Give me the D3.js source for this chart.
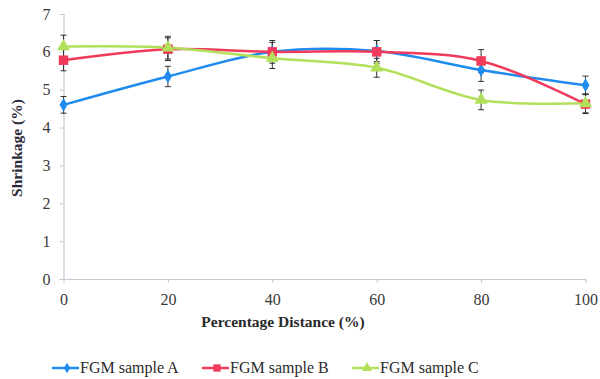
<!DOCTYPE html>
<html><head><meta charset="utf-8">
<script src="https://cdn.jsdelivr.net/npm/d3@7"></script>
<style>body{margin:0;background:#fff}svg{display:block}</style>
</head><body>
<svg id="c" width="600" height="379"></svg>
<script>
const distances = [0, 20, 40, 60, 80, 100];
const seriesNames = ["FGM sample A", "FGM sample B", "FGM sample C"];
const sampleA = [4.6, 5.35, 6.0, 6.02, 5.52, 5.12];
const sampleB = [5.78, 6.07, 6.0, 6.0, 5.76, 4.62];
const sampleC = [6.14, 6.11, 5.83, 5.58, 4.73, 4.64];
const errA = [0.22, 0.27, 0.25, 0.28, 0.3, 0.24];
const errB = [0.28, 0.3, 0.3, 0.3, 0.3, 0.25];
const errC = [0.3, 0.3, 0.27, 0.25, 0.26, 0.25];
const yTicks = [0, 1, 2, 3, 4, 5, 6, 7];
const xTicks = [0, 20, 40, 60, 80, 100];
const colors = ["#1f8bef", "#f03a5c", "#b3e05c"];
const markers = [d3.symbolDiamond, d3.symbolSquare, d3.symbolTriangle];
const markerSizes = [55, 90, 75];

const series = [sampleA, sampleB, sampleC].map((v, i) => ({
  name: seriesNames[i], color: colors[i], symbol: markers[i], size: markerSizes[i],
  pts: distances.map((d, j) => ({x: d, y: v[j], e: [errA, errB, errC][i][j]}))
}));

const FONT = "Liberation Serif";
const serif = sel => sel.attr("font-family", FONT).style("font-family", FONT, "important");
const svg = d3.select("#c");
const x = d3.scaleLinear().domain([0, 100]).range([63.5, 585.5]);
const y = d3.scaleLinear().domain([0, 7]).range([279, 14]);
const axisColor = "#c5c9d6";

// y axis
const ya = svg.append("g").attr("transform", `translate(${x(0)},0)`)
  .call(d3.axisLeft(y).tickValues(yTicks).tickFormat(d3.format("d")).tickSize(4).tickPadding(9));
ya.call(serif);
ya.select(".domain").attr("stroke", axisColor).attr("stroke-width", 1.2);
ya.selectAll("line").attr("stroke", axisColor);
ya.selectAll("text").call(serif).attr("font-size", 16).attr("fill", "#3a3a3a");

// x axis
const xa = svg.append("g").attr("transform", `translate(0,${y(0)})`)
  .call(d3.axisBottom(x).tickValues(xTicks).tickFormat(d3.format("d")).tickSize(4).tickPadding(11).tickSizeOuter(0));
xa.call(serif);
xa.select(".domain").attr("stroke", axisColor).attr("stroke-width", 1.2);
xa.selectAll("line").attr("stroke", axisColor);
xa.selectAll("text").call(serif).attr("font-size", 16).attr("fill", "#3a3a3a");

// axis titles
svg.append("text").attr("x", 283).attr("y", 327).attr("text-anchor", "middle").call(serif)
  .attr("font-size", 15.5).attr("font-weight", "bold").attr("fill", "#2a2a2a")
  .text("Percentage Distance (%)");
svg.append("text").attr("transform", "translate(22,148) rotate(-90)").attr("text-anchor", "middle").call(serif)
  .attr("font-size", 15.5).attr("font-weight", "bold").attr("fill", "#2a2a3a")
  .text("Shrinkage (%)");

const line = d3.line().x(d => x(d.x)).y(d => y(d.y)).curve(d3.curveCatmullRom.alpha(0.5));

series.forEach(s => {
  svg.append("path").datum(s.pts).attr("d", line).attr("fill", "none")
    .attr("stroke", s.color).attr("stroke-width", 2.5);
});

// error bars
series.forEach(s => {
  const g = svg.append("g").attr("stroke", "#333").attr("stroke-width", 1);
  s.pts.forEach(p => {
    g.append("line").attr("x1", x(p.x)).attr("x2", x(p.x)).attr("y1", y(p.y - p.e)).attr("y2", y(p.y + p.e));
    [p.y - p.e, p.y + p.e].forEach(v => g.append("line")
      .attr("x1", x(p.x) - 3).attr("x2", x(p.x) + 3).attr("y1", y(v)).attr("y2", y(v)));
  });
});

// markers
series.forEach(s => {
  svg.append("g").selectAll("path").data(s.pts).join("path")
    .attr("transform", d => `translate(${x(d.x)},${y(d.y)})`)
    .attr("d", d3.symbol().type(s.symbol).size(s.size)).attr("fill", s.color);
});

// legend
const legendX = [52, 202, 352];
series.forEach((s, i) => {
  const g = svg.append("g").attr("transform", `translate(${legendX[i]},368)`);
  g.append("line").attr("x1", 0).attr("x2", 27).attr("stroke", s.color).attr("stroke-width", 2.5);
  g.append("path").attr("transform", "translate(15,0)")
    .attr("d", d3.symbol().type(s.symbol).size(s.size * 0.6)).attr("fill", s.color);
  g.append("text").attr("x", 28).attr("y", 5).call(serif).attr("font-size", 16)
    .attr("fill", "#2a2a2a").text(s.name);
});
</script>
</body></html>
